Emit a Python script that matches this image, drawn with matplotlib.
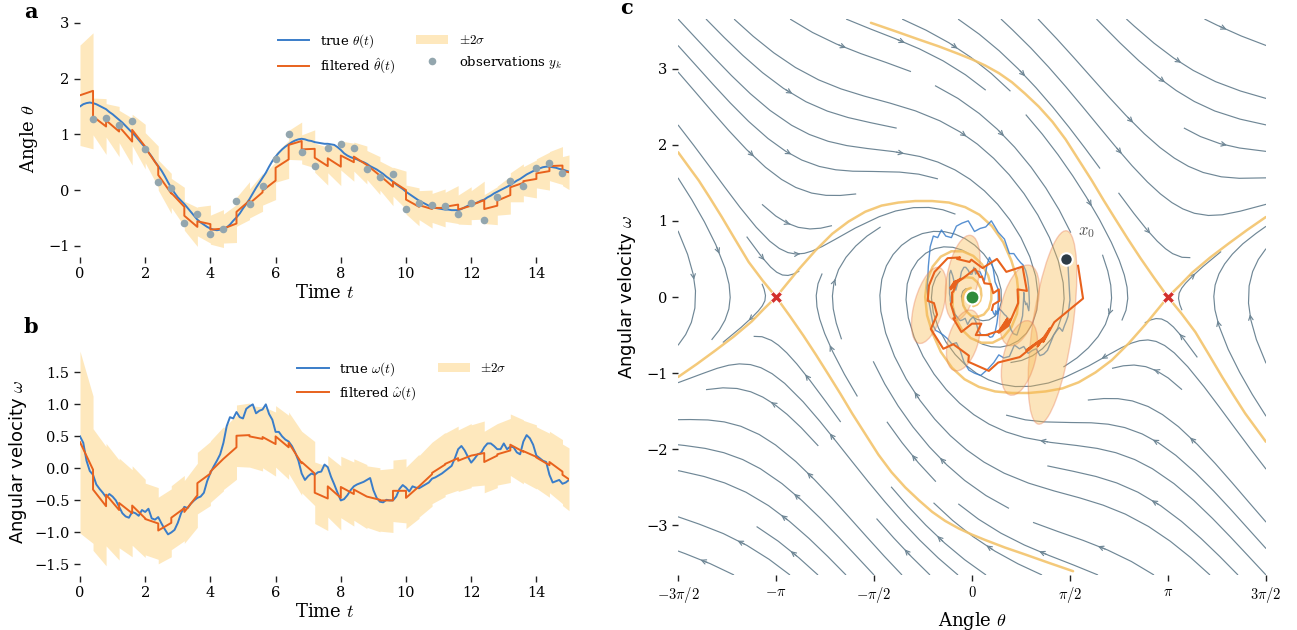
import numpy as np
import matplotlib
matplotlib.use("Agg")
import matplotlib.pyplot as plt
from matplotlib.patches import Ellipse, Patch
from matplotlib.lines import Line2D

plt.rcParams['font.family'] = ['DejaVu Serif']
plt.rcParams['mathtext.fontset'] = 'cm'

# ---------------- data ----------------
t_true = np.linspace(0, 15, 151)
theta_true = [1.50, 1.54, 1.56, 1.57, 1.56, 1.54, 1.51, 1.48, 1.45, 1.40,
              1.36, 1.31, 1.26, 1.21, 1.15, 1.09, 1.03, 0.97, 0.90, 0.83,
              0.76, 0.68, 0.60, 0.51, 0.43, 0.35, 0.25, 0.14, 0.04, -0.05,
              -0.13, -0.19, -0.25, -0.32, -0.39, -0.46, -0.53, -0.58, -0.62, -0.66,
              -0.69, -0.71, -0.72, -0.71, -0.70, -0.67, -0.62, -0.55, -0.49, -0.42,
              -0.33, -0.25, -0.16, -0.06, 0.04, 0.13, 0.22, 0.31, 0.42, 0.52,
              0.60, 0.67, 0.73, 0.78, 0.82, 0.86, 0.89, 0.91, 0.92, 0.91,
              0.89, 0.88, 0.86, 0.85, 0.84, 0.83, 0.83, 0.82, 0.81, 0.77,
              0.72, 0.66, 0.62, 0.59, 0.57, 0.55, 0.52, 0.50, 0.47, 0.43,
              0.40, 0.37, 0.33, 0.29, 0.24, 0.20, 0.15, 0.10, 0.06, 0.02,
              -0.03, -0.07, -0.11, -0.15, -0.19, -0.22, -0.25, -0.28, -0.30, -0.32,
              -0.33, -0.34, -0.35, -0.35, -0.36, -0.36, -0.36, -0.34, -0.31, -0.28,
              -0.26, -0.24, -0.22, -0.19, -0.17, -0.13, -0.10, -0.06, -0.03, 0.00,
              0.03, 0.06, 0.09, 0.13, 0.17, 0.20, 0.24, 0.28, 0.31, 0.34,
              0.37, 0.39, 0.41, 0.42, 0.42, 0.41, 0.40, 0.38, 0.37, 0.35,
              0.33]
omega_true = [0.50, 0.40, 0.12, -0.04, -0.10, -0.25, -0.32, -0.38, -0.45, -0.40,
              -0.44, -0.50, -0.60, -0.70, -0.75, -0.77, -0.68, -0.70, -0.74, -0.65,
              -0.68, -0.63, -0.78, -0.80, -0.76, -0.86, -0.95, -1.03, -1.00, -0.96,
              -0.85, -0.70, -0.60, -0.62, -0.55, -0.50, -0.46, -0.44, -0.38, -0.20,
              -0.07, 0.03, 0.12, 0.22, 0.40, 0.66, 0.80, 0.78, 0.88, 0.80,
              0.78, 0.93, 0.97, 1.00, 0.86, 0.90, 0.92, 1.00, 0.85, 0.76,
              0.57, 0.57, 0.50, 0.45, 0.42, 0.35, 0.25, 0.12, -0.08, -0.18,
              -0.12, -0.08, -0.10, -0.06, -0.05, 0.06, 0.02, -0.13, -0.25, -0.38,
              -0.50, -0.48, -0.42, -0.34, -0.28, -0.25, -0.23, -0.21, -0.18, -0.15,
              -0.34, -0.46, -0.52, -0.53, -0.49, -0.50, -0.50, -0.44, -0.32, -0.26,
              -0.30, -0.36, -0.28, -0.30, -0.31, -0.28, -0.25, -0.22, -0.16, -0.14,
              -0.11, -0.08, -0.04, 0.00, 0.04, 0.16, 0.30, 0.35, 0.28, 0.18,
              0.09, 0.15, 0.22, 0.24, 0.33, 0.39, 0.39, 0.35, 0.30, 0.30,
              0.39, 0.30, 0.34, 0.33, 0.25, 0.22, 0.42, 0.52, 0.47, 0.37,
              0.20, 0.16, 0.12, 0.10, -0.10, -0.22, -0.20, -0.18, -0.24, -0.22,
              -0.18]

t_obs = [0.4, 0.8, 1.2, 1.6, 2.0, 2.4, 2.8, 3.2, 3.6, 4.0, 4.4, 4.8, 5.2,
         5.6, 6.0, 6.4, 6.8, 7.2, 7.6, 8.0, 8.4, 8.8, 9.2, 9.6, 10.0, 10.4,
         10.8, 11.2, 11.6, 12.0, 12.4, 12.8, 13.2, 13.6, 14.0, 14.4, 14.8]
y_obs = [1.28, 1.30, 1.17, 1.24, 0.74, 0.14, 0.04, -0.59, -0.42, -0.79, -0.69,
         -0.20, -0.25, 0.08, 0.55, 1.00, 0.68, 0.43, 0.76, 0.82, 0.75, 0.38,
         0.24, 0.28, -0.34, -0.24, -0.27, -0.29, -0.43, -0.23, -0.54, -0.13,
         0.17, 0.07, 0.40, 0.49, 0.30]
t_start, t_end = 0.0, 15.0

# filtered estimate on each inter-observation interval: value right after the update and right before the next one
theta_f_start = [1.70, 1.32, 1.25, 1.14, 1.08, 0.76, 0.27, -0.05, -0.46, -0.56,
                 -0.71, -0.69, -0.39, -0.24, -0.01, 0.40, 0.81, 0.73, 0.58, 0.57,
                 0.62, 0.60, 0.45, 0.26, 0.15, -0.17, -0.27, -0.32, -0.30, -0.35,
                 -0.27, -0.34, -0.19, 0.05, 0.16, 0.30, 0.43, 0.34]
theta_f_end = [1.78, 1.14, 1.05, 0.87, 0.78, 0.42, -0.06, -0.30, -0.66, -0.61,
               -0.69, -0.60, -0.19, -0.04, 0.17, 0.55, 0.88, 0.74, 0.43, 0.42,
               0.50, 0.45, 0.26, 0.06, 0.00, -0.30, -0.34, -0.32, -0.26, -0.28,
               -0.18, -0.28, -0.09, 0.13, 0.20, 0.34, 0.44, 0.32]
theta_2sd_start = [0.90, 0.33, 0.30, 0.29, 0.28, 0.27, 0.27, 0.26, 0.26, 0.26,
                   0.26, 0.26, 0.26, 0.26, 0.26, 0.26, 0.26, 0.26, 0.26, 0.26,
                   0.26, 0.26, 0.26, 0.26, 0.26, 0.26, 0.26, 0.26, 0.26, 0.26,
                   0.26, 0.26, 0.26, 0.26, 0.26, 0.26, 0.26, 0.26]
theta_2sd_end = [1.04, 0.50, 0.45, 0.42, 0.40, 0.37, 0.36, 0.35, 0.35, 0.34,
                 0.34, 0.34, 0.34, 0.34, 0.34, 0.34, 0.34, 0.34, 0.34, 0.34,
                 0.34, 0.34, 0.34, 0.34, 0.34, 0.34, 0.34, 0.34, 0.34, 0.34,
                 0.34, 0.34, 0.34, 0.34, 0.34, 0.34, 0.34, 0.31]
omega_f_start = [0.41, -0.33, -0.41, -0.54, -0.58, -0.79, -0.97, -0.77, -0.68, -0.23,
                 -0.05, 0.15, 0.51, 0.50, 0.49, 0.50, 0.40, 0.10, -0.38, -0.28,
                 -0.29, -0.33, -0.44, -0.50, -0.35, -0.46, -0.28, -0.07, 0.07, 0.12,
                 0.20, 0.10, 0.22, 0.37, 0.27, 0.17, 0.10, -0.10]
omega_f_end = [-0.02, -0.59, -0.65, -0.70, -0.78, -0.86, -0.85, -0.62, -0.42, -0.08,
               0.15, 0.33, 0.52, 0.46, 0.38, 0.33, 0.08, -0.08, -0.47, -0.46,
               -0.40, -0.44, -0.49, -0.50, -0.35, -0.28, -0.09, 0.06, 0.16, 0.20,
               0.24, 0.20, 0.28, 0.26, 0.18, 0.05, -0.05, -0.17]
omega_2sd_start = [1.42, 0.95, 0.80, 0.70, 0.62, 0.56, 0.52, 0.50, 0.49, 0.48,
                   0.48, 0.48, 0.48, 0.48, 0.48, 0.48, 0.48, 0.48, 0.48, 0.48,
                   0.48, 0.48, 0.48, 0.48, 0.48, 0.48, 0.48, 0.48, 0.48, 0.48,
                   0.48, 0.48, 0.48, 0.48, 0.48, 0.48, 0.48, 0.48]
omega_2sd_end = [1.15, 0.93, 0.78, 0.68, 0.61, 0.56, 0.53, 0.51, 0.50, 0.50,
                 0.50, 0.50, 0.50, 0.50, 0.50, 0.50, 0.50, 0.50, 0.50, 0.50,
                 0.50, 0.50, 0.50, 0.50, 0.50, 0.50, 0.50, 0.50, 0.50, 0.50,
                 0.50, 0.50, 0.50, 0.50, 0.50, 0.50, 0.50, 0.49]

# phase portrait (damped pendulum field)
damping = 0.6
# separatrix through the saddle at -pi (the one through +pi is its mirror image)
sep_stable_theta = [-4.71, -4.55, -4.38, -4.20, -4.01, -3.80, -3.58, -3.36, -3.14,
                    -2.92, -2.70, -2.50, -2.30, -2.11, -1.92, -1.71, -1.50, -1.29,
                    -1.07, -0.85, -0.64, -0.43, -0.21, 0.00, 0.21, 0.53, 0.85,
                    1.23, 1.62]
sep_stable_omega = [1.90, 1.72, 1.53, 1.30, 1.05, 0.76, 0.46, 0.22, 0.00,
                    -0.25, -0.51, -0.76, -1.02, -1.27, -1.53, -1.80, -2.07, -2.30,
                    -2.50, -2.67, -2.82, -2.94, -3.04, -3.12, -3.19, -3.29, -3.38,
                    -3.49, -3.60]
sep_unstable_theta = [-4.71, -4.41, -4.11, -3.82, -3.53, -3.34, -3.14, -2.96, -2.78,
                      -2.51, -2.24, -1.98, -1.71, -1.45, -1.18, -0.91, -0.64, -0.37,
                      -0.11, 0.12, 0.32, 0.50, 0.63, 0.72, 0.75, 0.72, 0.63, 0.50,
                      0.33, 0.15, -0.02, -0.16, -0.26, -0.31, -0.31, -0.27, -0.19,
                      -0.09, 0.01, 0.09, 0.14, 0.15, 0.13, 0.08, 0.02]
sep_unstable_omega = [-1.05, -0.88, -0.70, -0.52, -0.32, -0.16, 0.00, 0.18, 0.36,
                      0.61, 0.83, 0.99, 1.12, 1.20, 1.24, 1.26, 1.26, 1.24,
                      1.18, 1.08, 0.93, 0.72, 0.48, 0.24, 0.00, -0.22, -0.40, -0.53,
                      -0.60, -0.60, -0.54, -0.43, -0.28, -0.12, 0.03, 0.15, 0.23,
                      0.26, 0.25, 0.19, 0.11, 0.02, -0.05, -0.10, -0.12]
eq_stable = (0.0, 0.0)
saddle_theta = [-np.pi, np.pi]
saddle_omega = [0.0, 0.0]

ell_theta = [1.29, 0.76, 0.76, -0.69, -0.15, -0.14]
ell_omega = [-0.40, -0.11, -0.80, -0.11, 0.25, -0.57]
ell_half_theta = [0.39, 0.32, 0.29, 0.28, 0.28, 0.27]
ell_half_omega = [1.27, 0.53, 0.49, 0.50, 0.56, 0.40]
ell_corr = [0.55, 0.42, 0.42, 0.50, 0.40, 0.40]

# ---------------- style ----------------
BLUE = '#3a7dc9'
ORANGE = '#e8621d'
BAND = '#fee8bd'
OBS = '#93a6ae'
STREAM = '#6f8796'
SEP = '#f3c46c'

knots = [t_start] + t_obs + [t_end]


def piecewise(s, e):
    tt, vv = [], []
    for i in range(len(s)):
        tt += [knots[i], knots[i + 1]]
        vv += [s[i], e[i]]
    return np.array(tt), np.array(vv)


fig = plt.figure(figsize=(12.97, 6.30), dpi=100)
W, H = 1297, 630


def axes_px(l, t, r, b):
    return fig.add_axes([l / W, 1 - b / H, (r - l) / W, (b - t) / H])


def style(ax):
    for s in ax.spines.values():
        s.set_visible(False)
    ax.tick_params(length=4, width=1.0, pad=3.5, labelsize=10.5, color='#222222')


# ---- panel a ----
axa = axes_px(80, 20, 569, 257)
tp, mth = piecewise(theta_f_start, theta_f_end)
_, hth = piecewise(theta_2sd_start, theta_2sd_end)
axa.fill_between(tp, mth - hth, mth + hth, color=BAND, lw=0, zorder=1)
axa.plot(t_true, theta_true, color=BLUE, lw=1.4, zorder=3)
axa.plot(tp, mth, color=ORANGE, lw=1.4, zorder=4)
axa.scatter(t_obs, y_obs, s=30, color=OBS, lw=0, zorder=5)
axa.set_xlim(0, 15)
axa.set_ylim(-1.2, 3.05)
axa.set_xticks([0, 2, 4, 6, 8, 10, 12, 14])
axa.set_yticks([-1, 0, 1, 2, 3])
axa.set_xlabel(r'Time $t$', fontsize=13, labelpad=2)
axa.set_ylabel(r'Angle $\theta$', fontsize=13, labelpad=6)
style(axa)
ha = [Line2D([], [], color=BLUE, lw=1.4), Line2D([], [], color=ORANGE, lw=1.4),
      Patch(facecolor=BAND, edgecolor='none'),
      Line2D([], [], ls='none', marker='o', ms=5.5, color=OBS, mec='none')]
la = [r'true $\theta(t)$', r'filtered $\hat{\theta}(t)$', r'$\pm2\sigma$', r'observations $y_k$']
axa.legend(ha, la, ncol=2, frameon=False, fontsize=9.5, loc='upper left',
           bbox_to_anchor=(0.38, 1.0), columnspacing=1.6, handlelength=2.4)

# ---- panel b ----
axb = axes_px(80, 348, 569, 576)
tp, mom = piecewise(omega_f_start, omega_f_end)
_, hom = piecewise(omega_2sd_start, omega_2sd_end)
axb.fill_between(tp, mom - hom, mom + hom, color=BAND, lw=0, zorder=1)
axb.plot(t_true, omega_true, color=BLUE, lw=1.4, zorder=3)
axb.plot(tp, mom, color=ORANGE, lw=1.4, zorder=4)
axb.set_xlim(0, 15)
axb.set_ylim(-1.68, 1.88)
axb.set_xticks([0, 2, 4, 6, 8, 10, 12, 14])
axb.set_yticks([-1.5, -1.0, -0.5, 0.0, 0.5, 1.0, 1.5])
axb.set_xlabel(r'Time $t$', fontsize=13, labelpad=2)
axb.set_ylabel(r'Angular velocity $\omega$', fontsize=13, family='DejaVu Sans', labelpad=4)
style(axb)
hb = ha[:3]
lb = [r'true $\omega(t)$', r'filtered $\hat{\omega}(t)$', r'$\pm2\sigma$']
axb.legend(hb, lb, ncol=2, frameon=False, fontsize=9.5, loc='upper left',
           bbox_to_anchor=(0.42, 1.0), columnspacing=1.6, handlelength=2.4)

# ---- panel c ----
axc = axes_px(678, 19, 1266, 575)
xlo, xhi = -1.5 * np.pi, 1.5 * np.pi
ylo, yhi = -3.65, 3.65
gx = np.linspace(xlo, xhi, 120)
gy = np.linspace(ylo, yhi, 120)
TH, OM = np.meshgrid(gx, gy)
U = OM
V = -np.sin(TH) - damping * OM
axc.streamplot(TH, OM, U, V, density=0.75, color=STREAM, linewidth=0.85,
               arrowsize=0.8, arrowstyle='->', zorder=1)
st = np.array(sep_stable_theta); so = np.array(sep_stable_omega)
ut = np.array(sep_unstable_theta); uo = np.array(sep_unstable_omega)
for xs, ys in [(st, so), (-st, -so), (ut, uo), (-ut, -uo)]:
    axc.plot(xs, ys, color=SEP, lw=1.8, alpha=0.9, zorder=2,
             solid_capstyle='round', solid_joinstyle='round')
axc.plot(theta_true, omega_true, color=BLUE, lw=1.0, alpha=0.85, zorder=3)
for cx, cy, hx, hy, r in zip(ell_theta, ell_omega, ell_half_theta, ell_half_omega, ell_corr):
    cov = np.array([[hx * hx, r * hx * hy], [r * hx * hy, hy * hy]])
    vals, vecs = np.linalg.eigh(cov)
    ang = np.degrees(np.arctan2(vecs[1, 1], vecs[0, 1]))
    e = Ellipse((cx, cy), 2 * np.sqrt(vals[1]), 2 * np.sqrt(vals[0]), angle=ang,
                facecolor='#f8b84e', edgecolor='#e8805a', alpha=0.38, lw=1.0, zorder=4)
    axc.add_patch(e)
pth, pom = [], []
for a, b, c, d in zip(theta_f_start, theta_f_end, omega_f_start, omega_f_end):
    pth += [a, b]
    pom += [c, d]
axc.plot(pth, pom, color=ORANGE, lw=1.5, zorder=5)
axc.plot(saddle_theta, saddle_omega, ls='none', marker='X', ms=9, color='#d3302c',
         mec='white', mew=0.6, zorder=7)
axc.plot([eq_stable[0]], [eq_stable[1]], ls='none', marker='o', ms=10, color='#2e8a3c',
         mec='white', mew=1.5, zorder=7)
axc.plot([theta_true[0]], [omega_true[0]], ls='none', marker='o', ms=9, color='#2c3b46',
         mec='white', mew=1.5, zorder=7)
axc.annotate(r'$x_0$', (theta_true[0], omega_true[0]), xytext=(9, 17),
             textcoords='offset points', fontsize=12, color='#555555')
axc.set_xlim(xlo, xhi)
axc.set_ylim(ylo, yhi)
axc.set_xticks([-1.5 * np.pi, -np.pi, -0.5 * np.pi, 0, 0.5 * np.pi, np.pi, 1.5 * np.pi])
axc.set_xticklabels([r'$-3\pi/2$', r'$-\pi$', r'$-\pi/2$', r'$0$', r'$\pi/2$', r'$\pi$', r'$3\pi/2$'])
axc.set_yticks([-3, -2, -1, 0, 1, 2, 3])
axc.set_xlabel(r'Angle $\theta$', fontsize=13, labelpad=3)
axc.set_ylabel(r'Angular velocity $\omega$', fontsize=13, family='DejaVu Sans', labelpad=6)
style(axc)

fig.text(24 / W, 1 - 12 / H, 'a', fontsize=15, fontweight='bold', va='center')
fig.text(24 / W, 1 - 327 / H, 'b', fontsize=15, fontweight='bold', va='center')
fig.text(620 / W, 1 - 8 / H, 'c', fontsize=15, fontweight='bold', va='center')

fig.savefig('out.png', dpi=100)
